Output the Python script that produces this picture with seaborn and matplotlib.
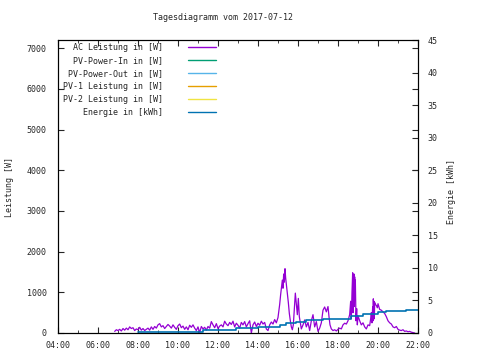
import numpy as np
import pandas as pd
import matplotlib
matplotlib.use("Agg")
import matplotlib.pyplot as plt
from matplotlib.lines import Line2D
from matplotlib.ticker import MultipleLocator
import seaborn as sns

# AC Leistung [W]
ac_time = ["06:50", "06:55", "07:00", "07:05", "07:10", "07:15", "07:20", "07:25", "07:30", "07:35",
           "07:40", "07:45", "07:50", "07:55", "08:00", "08:05", "08:10", "08:15", "08:20", "08:25",
           "08:30", "08:35", "08:40", "08:45", "08:50", "08:55", "09:00", "09:05", "09:10", "09:15",
           "09:20", "09:25", "09:30", "09:35", "09:40", "09:45", "09:50", "09:55", "10:00", "10:05",
           "10:10", "10:15", "10:20", "10:25", "10:30", "10:35", "10:40", "10:45", "10:50", "10:55",
           "11:00", "11:05", "11:10", "11:15", "11:20", "11:25", "11:30", "11:35", "11:40", "11:45",
           "11:50", "11:55", "12:00", "12:05", "12:10", "12:15", "12:20", "12:25", "12:30", "12:35",
           "12:40", "12:45", "12:50", "12:55", "13:00", "13:05", "13:10", "13:15", "13:20", "13:25",
           "13:30", "13:35", "13:40", "13:45", "13:50", "13:55", "14:00", "14:05", "14:10", "14:15",
           "14:20", "14:25", "14:30", "14:35", "14:40", "14:45", "14:50", "14:55", "15:00", "15:05",
           "15:08", "15:11", "15:13", "15:15", "15:17", "15:19", "15:21", "15:23", "15:25", "15:28",
           "15:31", "15:34", "15:37", "15:40", "15:43", "15:46", "15:49", "15:52", "15:55", "15:58",
           "16:01", "16:04", "16:07", "16:10", "16:15", "16:20", "16:25", "16:30", "16:35", "16:40",
           "16:45", "16:50", "16:55", "17:00", "17:05", "17:10", "17:15", "17:20", "17:25", "17:30",
           "17:33", "17:36", "17:40", "17:45", "17:50", "17:55", "18:00", "18:05", "18:10", "18:15",
           "18:20", "18:25", "18:30", "18:35", "18:38", "18:40", "18:42", "18:44", "18:45", "18:46",
           "18:47", "18:48", "18:49", "18:50", "18:51", "18:52", "18:54", "18:56", "18:58", "19:00",
           "19:05", "19:10", "19:15", "19:20", "19:25", "19:30", "19:35", "19:38", "19:40", "19:42",
           "19:44", "19:45", "19:46", "19:47", "19:48", "19:49", "19:50", "19:52", "19:55", "19:58",
           "20:00", "20:05", "20:10", "20:15", "20:20", "20:25", "20:30", "20:35", "20:40", "20:45",
           "20:50", "20:55", "21:00", "21:05", "21:10", "21:15", "21:20", "21:25", "21:30", "21:35",
           "21:40", "21:45", "21:50"]
ac_power = [40, 80, 60, 90, 50, 110, 70, 120, 80, 150,
            110, 130, 60, 100, 80, 140, 70, 110, 60, 90,
            120, 70, 150, 90, 160, 120, 200, 230, 150, 180,
            110, 160, 210, 170, 120, 200, 140, 90, 180, 220,
            130, 170, 90, 150, 80, 190, 140, 200, 120, 60,
            150, 10, 160, 100, 140, 70, 160, 120, 280, 200,
            130, 230, 110, 170, 200, 150, 290, 220, 180, 260,
            210, 290, 150, 240, 190, 120, 260, 200, 280, 150,
            230, 300, 0, 200, 270, 160, 240, 190, 290, 220,
            260, 100, 60, 200, 270, 220, 330, 250, 380, 700,
            950, 1150, 1300, 1100, 1450, 1250, 1580, 1350, 1200, 950,
            750, 480, 300, 150, 80, 200, 600, 980, 700, 450,
            850, 400, 250, 100, 200, 320, 150, 260, 60, 300,
            450, 150, 280, 40, 120, 250, 560, 640, 520, 650,
            400, 200, 100, 60, 80, 50, 90, 120, 100, 200,
            240, 220, 300, 450, 780, 350, 1000, 1480, 500, 1400,
            700, 1450, 650, 1380, 800, 1300, 300, 600, 200, 420,
            300, 200, 250, 150, 100, 200, 180, 350, 500, 250,
            650, 300, 840, 400, 780, 350, 750, 700, 680, 620,
            720, 580, 560, 520, 480, 400, 300, 250, 220, 150,
            130, 160, 90, 70, 60, 80, 40, 50, 30, 40,
            20, 10, 0]

# Energie [kWh]
en_time = ["08:00", "10:35", "11:15", "12:15", "12:55", "14:00", "15:05", "15:25", "15:55",
           "16:25", "17:15", "18:40", "19:15", "20:00", "20:25", "21:25", "22:00"]
en_value = [0.15, 0.2, 0.4, 0.5, 0.72, 0.95, 1.2, 1.5, 1.75,
            1.95, 2.2, 2.65, 2.85, 3.15, 3.35, 3.5, 3.5]

labels = ["AC Leistung in [W]", "PV-Power-In in [W]", "PV-Power-Out in [W]",
          "PV-1 Leistung in [W]", "PV-2 Leistung in [W]", "Energie in [kWh]"]
colors = ["#9400d3", "#009e73", "#56b4e9", "#e69f00", "#f0e442", "#0072b2"]


def to_hours(t):
    return pd.to_timedelta([s + ":00" for s in t]).total_seconds() / 3600.0


ac = pd.DataFrame({"h": to_hours(ac_time), "w": ac_power})
en = pd.DataFrame({"h": to_hours(en_time), "e": en_value})

sns.set_style("ticks")
plt.rcParams["font.family"] = ["DejaVu Sans Mono"]
plt.rcParams["font.size"] = 6

fig = plt.figure(figsize=(4.8, 3.6), dpi=100)
ax = fig.add_axes([58 / 480, 27 / 360, 360 / 480, 293 / 360])
ax2 = ax.twinx()

sns.lineplot(data=ac, x="h", y="w", ax=ax, color=colors[0], lw=0.9, legend=False)
sns.lineplot(data=en, x="h", y="e", ax=ax2, color=colors[5], lw=1.2,
             drawstyle="steps-post", legend=False)

ax.set_xlim(4, 22)
ax.set_ylim(0, 7200)
ax2.set_ylim(0, 45)
ax.set_xticks(np.arange(4, 23, 2))
ax.set_xticklabels([f"{h:02d}:00" for h in range(4, 23, 2)])
ax.xaxis.set_minor_locator(MultipleLocator(1))
ax.yaxis.set_major_locator(MultipleLocator(1000))
ax2.yaxis.set_major_locator(MultipleLocator(5))

ax.set_xlabel("")
ax.set_ylabel("")
ax2.set_ylabel("")
ax.tick_params(axis="x", which="both", direction="in", top=True, pad=6, labelsize=6)
ax.tick_params(axis="x", which="major", length=4)
ax.tick_params(axis="x", which="minor", length=2)
ax.tick_params(axis="y", direction="in", right=True, length=4, pad=8, labelsize=6)
ax2.tick_params(axis="y", direction="in", length=4, pad=7, labelsize=6)
for a in (ax, ax2):
    for s in a.spines.values():
        s.set_linewidth(0.8)
        s.set_color("black")

handles = [Line2D([], [], color=c, lw=1.0) for c in colors]
ax.legend(handles, labels, loc="upper left", bbox_to_anchor=(2 / 360, 1.0),
          frameon=False, markerfirst=False, handlelength=3.4, handletextpad=2.9,
          labelspacing=0.48, borderaxespad=0.0, fontsize=6)

fig.text(223 / 480, 1 - 17 / 360, "Tagesdiagramm vom 2017-07-12", ha="center", va="center", fontsize=6)
fig.text(10 / 480, 1 - 187 / 360, "Leistung [W]", rotation=90, ha="center", va="center", fontsize=6)
fig.text(452 / 480, 1 - 192 / 360, "Energie [kWh]", rotation=90, ha="center", va="center", fontsize=6)

fig.savefig("out.png", dpi=100)
